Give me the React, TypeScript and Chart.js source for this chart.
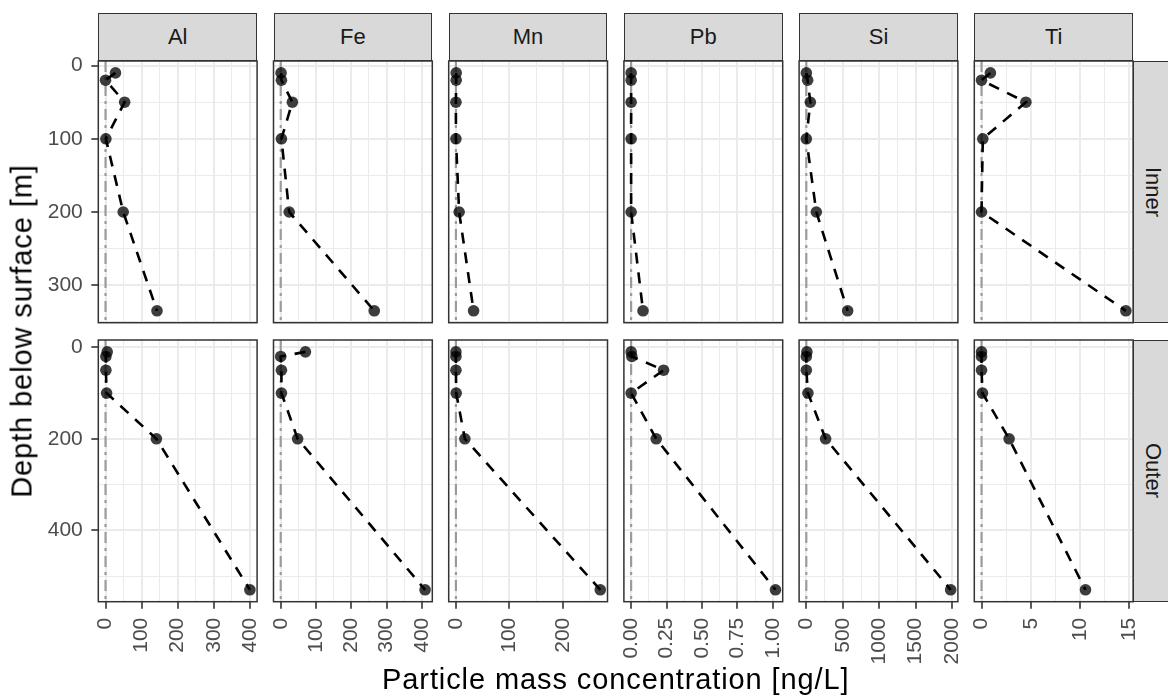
import React, { useEffect, useRef } from "react";
import { Chart, registerables } from "chart.js";

Chart.register(...registerables);

// ---------------- data ----------------
const elements = ["Al", "Fe", "Mn", "Pb", "Si", "Ti"];
const regions = ["Inner", "Outer"];

const innerDepths = [10, 20, 50, 100, 200, 335];
const outerDepths = [10, 20, 50, 100, 200, 530];

const innerAl = [27.6, 0, 53, 1, 49, 142.6];
const outerAl = [4.6, 1, 1, 3, 141, 400];
const innerFe = [1, 2, 33, 2, 24, 265];
const outerFe = [70, 0, 2, 2, 48, 409];
const innerMn = [0.5, 0.5, 0, 0, 6, 33];
const outerMn = [0, 0, 0, 0.5, 16.7, 269.5];
const innerPb = [0, 0, 0, 0, 0, 0.084];
const outerPb = [0, 0.005, 0.229, 0, 0.177, 1.018];
const innerSi = [0, 18, 55, 0, 137, 567];
const outerSi = [8, 0, 0, 22, 265, 1980];
const innerTi = [0.9, 0, 4.5, 0.13, 0, 14.65];
const outerTi = [0, 0, 0, 0.1, 2.8, 10.55];

const seriesByElement = [
  [innerAl, outerAl],
  [innerFe, outerFe],
  [innerMn, outerMn],
  [innerPb, outerPb],
  [innerSi, outerSi],
  [innerTi, outerTi],
];
const depthsByRegion = [innerDepths, outerDepths];

// major tick steps (tick labels) per column / row
const xMajorSteps = [100, 100, 100, 0.25, 500, 5];
const xDecimals = [0, 0, 0, 2, 0, 0];
const yMajorSteps = [100, 200];

const xTitle = "Particle mass concentration [ng/L]";
const yTitle = "Depth below surface [m]";

// ---------------- layout ----------------
const FONT = "'Liberation Sans', Arial, Helvetica, sans-serif";
const PANEL_LEFT0 = 98.3;
const PANEL_STEP = 175.2;
const PANEL_W = 158.8;
const ROW_TOPS = [61, 340];
const PANEL_H = 261.7;
const STRIP_TOP = 13.3;
const STRIP_H = 47.7;
const TICK_FONT = 21;
const STRIP_FONT = 22;
const TITLE_FONT = 29;

function expand(vals: number[], includeZero: boolean): [number, number] {
  let lo = Math.min(...vals);
  let hi = Math.max(...vals);
  if (includeZero) {
    lo = Math.min(lo, 0);
    hi = Math.max(hi, 0);
  }
  const r = hi - lo;
  return [lo - 0.05 * r, hi + 0.05 * r];
}

function makeTicks(lo: number, hi: number, step: number) {
  const out: { value: number }[] = [];
  const start = Math.ceil(lo / step - 1e-9);
  for (let k = start; k * step <= hi + 1e-9; k++) {
    out.push({ value: Math.round(k * step * 1e6) / 1e6 });
  }
  return out;
}

function isMajor(v: number, step: number) {
  const q = v / step;
  return Math.abs(q - Math.round(q)) < 1e-6;
}

const framePlugin = {
  id: "frame",
  afterDraw(chart: any) {
    const { ctx, chartArea } = chart;
    ctx.save();
    ctx.strokeStyle = "#333333";
    ctx.lineWidth = 1.5;
    ctx.strokeRect(
      chartArea.left,
      chartArea.top,
      chartArea.right - chartArea.left,
      chartArea.bottom - chartArea.top
    );
    ctx.restore();
  },
};

function zeroPad(s: any) {
  s.paddingLeft = 0;
  s.paddingRight = 0;
  s.paddingTop = 0;
  s.paddingBottom = 0;
}

function Panel({ col, row }: { col: number; row: number }) {
  const ref = useRef<HTMLCanvasElement>(null);
  const M = 16;
  const AXW = 60;
  const AXH = 72;
  const panelLeft = PANEL_LEFT0 + col * PANEL_STEP;
  const rowTop = ROW_TOPS[row];
  const axL = col === 0 ? AXW : 0;
  const axB = row === 1 ? AXH : 0;
  const cLeft = Math.floor(panelLeft - axL - M);
  const cTop = Math.floor(rowTop - M);
  const cRight = Math.ceil(panelLeft + PANEL_W + M);
  const cBottom = Math.ceil(rowTop + PANEL_H + axB + M);
  const padL = panelLeft - axL - cLeft;
  const padT = rowTop - cTop;
  const padR = cRight - (panelLeft + PANEL_W);
  const padB = cBottom - (rowTop + PANEL_H + axB);
  const W = cRight - cLeft;
  const H = cBottom - cTop;

  useEffect(() => {
    if (!ref.current) return;
    const xs = seriesByElement[col][row];
    const depths = depthsByRegion[row];
    const [xlo, xhi] = expand(
      [...seriesByElement[col][0], ...seriesByElement[col][1]],
      true
    );
    const [ylo, yhi] = expand(depths, false);
    const xStep = xMajorSteps[col];
    const yStep = yMajorSteps[row];
    const dec = xDecimals[col];

    const chart = new Chart(ref.current, {
      type: "scatter",
      data: {
        datasets: [
          {
            data: depths.map((d, i) => ({ x: xs[i], y: d })),
            showLine: true,
            borderColor: "#000000",
            borderWidth: 2.6,
            borderDash: [11, 9],
            pointRadius: 5.8,
            pointHoverRadius: 5.8,
            pointBackgroundColor: "rgba(0,0,0,0.76)",
            pointBorderWidth: 0,
            order: 0,
          } as any,
          {
            data: [
              { x: 0, y: ylo },
              { x: 0, y: yhi },
            ],
            showLine: true,
            borderColor: "rgba(128,128,128,0.75)",
            borderWidth: 2.2,
            borderDash: [11, 5, 3, 5],
            pointRadius: 0,
            order: 1,
          } as any,
        ],
      },
      options: {
        responsive: false,
        animation: false,
        events: [],
        layout: {
          padding: { left: padL, right: padR, top: padT, bottom: padB },
          autoPadding: false,
        } as any,
        plugins: {
          legend: { display: false },
          tooltip: { enabled: false },
        },
        scales: {
          x: {
            type: "linear",
            min: xlo,
            max: xhi,
            afterBuildTicks: (s: any) => {
              s.ticks = makeTicks(xlo, xhi, xStep / 2);
            },
            ticks: {
              display: row === 1,
              autoSkip: false,
              minRotation: 90,
              maxRotation: 90,
              padding: 9,
              color: "#4D4D4D",
              font: { size: TICK_FONT, family: FONT },
              callback: (v: any) =>
                isMajor(Number(v), xStep) ? Number(v).toFixed(dec) : "",
            },
            grid: {
              color: "#EBEBEB",
              lineWidth: (c: any) =>
                c.tick && isMajor(c.tick.value, xStep) ? 2 : 1,
              drawTicks: row === 1,
              tickLength: 7,
              tickWidth: 1.6,
              tickColor: (c: any) =>
                c.tick && isMajor(c.tick.value, xStep)
                  ? "#333333"
                  : "rgba(0,0,0,0)",
            },
            border: { display: false },
            afterFit: (s: any) => {
              s.height = axB;
              zeroPad(s);
            },
          } as any,
          y: {
            type: "linear",
            reverse: true,
            min: ylo,
            max: yhi,
            afterBuildTicks: (s: any) => {
              s.ticks = makeTicks(ylo, yhi, yStep / 2);
            },
            ticks: {
              display: col === 0,
              autoSkip: false,
              padding: 8.5,
              color: "#4D4D4D",
              font: { size: TICK_FONT, family: FONT },
              callback: (v: any) =>
                isMajor(Number(v), yStep) ? String(Math.round(Number(v))) : "",
            },
            grid: {
              color: "#EBEBEB",
              lineWidth: (c: any) =>
                c.tick && isMajor(c.tick.value, yStep) ? 2 : 1,
              drawTicks: col === 0,
              tickLength: 7,
              tickWidth: 1.6,
              tickColor: (c: any) =>
                c.tick && isMajor(c.tick.value, yStep)
                  ? "#333333"
                  : "rgba(0,0,0,0)",
            },
            border: { display: false },
            afterFit: (s: any) => {
              s.width = axL;
              zeroPad(s);
            },
          } as any,
        },
      },
      plugins: [framePlugin],
    });
    return () => chart.destroy();
  }, [col, row]);

  return (
    <canvas
      ref={ref}
      width={W}
      height={H}
      style={{
        position: "absolute",
        left: cLeft,
        top: cTop,
        width: W,
        height: H,
      }}
    />
  );
}

export default function App() {
  const panels: JSX.Element[] = [];
  for (let r = 0; r < 2; r++)
    for (let c = 0; c < 6; c++)
      panels.push(<Panel key={`${r}-${c}`} col={c} row={r} />);

  return (
    <div
      style={{
        position: "absolute",
        left: 0,
        top: 0,
        width: 1168,
        height: 700,
        overflow: "hidden",
        background: "#FFFFFF",
        fontFamily: FONT,
      }}
    >
      {elements.map((el, c) => (
        <div
          key={el}
          style={{
            position: "absolute",
            left: PANEL_LEFT0 + c * PANEL_STEP,
            top: STRIP_TOP,
            width: PANEL_W,
            height: STRIP_H,
            boxSizing: "border-box",
            background: "#D9D9D9",
            border: "1.5px solid #333333",
            display: "flex",
            alignItems: "center",
            justifyContent: "center",
            fontSize: STRIP_FONT,
            color: "#1A1A1A",
          }}
        >
          {el}
        </div>
      ))}
      {regions.map((rg, r) => (
        <div
          key={rg}
          style={{
            position: "absolute",
            left: PANEL_LEFT0 + 5 * PANEL_STEP + PANEL_W,
            top: ROW_TOPS[r],
            width: STRIP_H,
            height: PANEL_H,
            boxSizing: "border-box",
            background: "#D9D9D9",
            border: "1.5px solid #333333",
            display: "flex",
            alignItems: "center",
            justifyContent: "center",
            fontSize: STRIP_FONT,
            color: "#1A1A1A",
          }}
        >
          <span style={{ writingMode: "vertical-rl" as any, marginRight: 8 }}>
            {rg}
          </span>
        </div>
      ))}
      {panels}
      <div
        style={{
          position: "absolute",
          left: 615.8,
          top: 678.5,
          transform: "translate(-50%, -50%)",
          fontSize: TITLE_FONT,
          letterSpacing: 0.9,
          color: "#000000",
          whiteSpace: "nowrap",
          lineHeight: 1,
        }}
      >
        {xTitle}
      </div>
      <div
        style={{
          position: "absolute",
          left: 22,
          top: 331.3,
          transform: "translate(-50%, -50%) rotate(-90deg)",
          fontSize: TITLE_FONT,
          letterSpacing: 0.9,
          color: "#000000",
          whiteSpace: "nowrap",
          lineHeight: 1,
        }}
      >
        {yTitle}
      </div>
    </div>
  );
}
